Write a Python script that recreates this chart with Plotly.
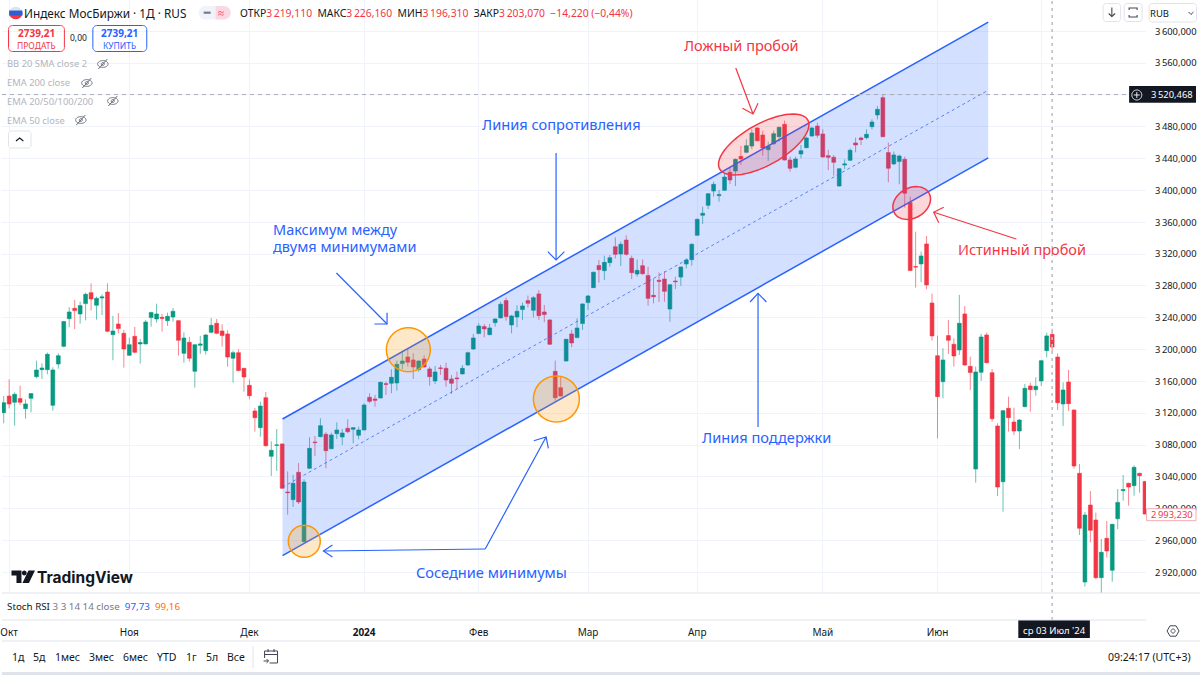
import math
import plotly.graph_objects as go

# daily candles of the index
opens = [3120.7,3141.6,3133.7,3138.3,3125.7,3138.7,3165.9,3174.7,3174.7,3129.9,
    3181.8,3204,3238.8,3251.8,3244.7,3257.7,3271.5,3255.6,3264.8,3272.3,
    3218.7,3232.1,3220.4,3192.7,3216.6,3207,3207,3240.1,3238.4,3240.5,
    3236.3,3240.9,3236.3,3195.2,3209.1,3172.6,3205.3,3198.6,3221.6,3233,
    3223.3,3219.6,3189,3196.1,3176.4,3155,3122.8,3101.8,3139.5,3065.8,
    3079.6,3081.3,3020.9,3011.3,3045.7,2958.5,3050.7,3083.8,3090.5,3093.5,
    3075.4,3094.3,3090.1,3101,3099.7,3092.2,3098.9,3140,3137.9,3139.1,
    3157.1,3157.6,3158,3182.3,3190.7,3186.9,3174.7,3188.1,3175.6,3160.5,
    3176.8,3176.4,3163,3164.3,3169.3,3180.6,3200.7,3220,3228.8,3218.7,
    3233.8,3239.7,3261.5,3230.9,3240.9,3250.2,3261.5,3249.3,3269.9,3247.2,
    3237.2,3172.6,3152.1,3185.6,3219.6,3215,3232.6,3259,3277.8,3305.5,
    3299.1,3309.2,3329.3,3320.1,3337.6,3314.6,3294.9,3305.4,3293.2,3268.1,
    3287,3288.6,3250.9,3286.1,3291.1,3307.5,3312.9,3343.5,3368.7,3381.2,
    3399.2,3393.4,3400.1,3422.7,3424.4,3442.8,3447.8,3455.8,3478.4,3469.6,
    3451.2,3458.7,3467.5,3483,3438.2,3429,3445.8,3453.7,3468.4,3480.9,
    3470.9,3443.7,3441.6,3405.5,3431.9,3437.8,3459.6,3465.9,3466.3,3480.1,
    3494.8,3516.6,3447.5,3433.3,3436.2,3439.1,3384.7,3304.2,3307.6,3332.7,
    3258.5,3192.3,3159.6,3217.5,3206.6,3199.5,3244.7,3178.9,3049.8,3171.4,
    3218.3,3170.9,3103.9,3033.9,3126.1,3108.9,3097.6,3128.2,3154.2,3149.6,
    3160.5,3198.6,3219.11,3190.6,3131.6,3159.2,3124,3044.4,2907.8,3004.6,
    2985.7,2913.3,2962.7,2922.5,2987.4,3022.6,3031.8,3028.9,3044.4,3034]
highs = [3141.6,3162.6,3146.2,3154.6,3137.4,3145,3186,3182.7,3196.1,3177.7,
    3195.2,3236,3253.1,3262.3,3260.2,3271.5,3283.2,3266.5,3269.4,3283.2,
    3242.2,3245.9,3224.6,3214.9,3228.4,3213.3,3237.1,3247.6,3257.7,3244.7,
    3246.4,3252.2,3237.1,3221.6,3215.8,3207,3217,3219.6,3239.7,3238.4,
    3231.7,3224.2,3198.6,3200.3,3176.8,3162.6,3126.5,3134.5,3146.6,3084.6,
    3100.1,3082.1,3046.9,3042.7,3057.4,3036.9,3089.7,3091.3,3113.5,3096,
    3095.5,3108.5,3100.2,3112.3,3102.5,3103.1,3132.4,3145,3142.9,3159.7,
    3159.7,3175.2,3186.1,3198.6,3201.6,3195.3,3186.5,3192.8,3178.5,3179.3,
    3180.6,3183.5,3168,3172.2,3180.6,3197.4,3219.6,3233,3232.1,3232.1,
    3239.3,3260.2,3265.2,3243.5,3255.6,3259,3267.8,3267.3,3274.5,3256,
    3238,3186.1,3165.1,3213.5,3224.6,3239.3,3258,3268.6,3297.9,3312.6,
    3318,3318.8,3341,3335.6,3343.5,3318,3313.3,3313.3,3304.1,3289.5,
    3297,3298.7,3282,3291.6,3304.1,3314.6,3333.5,3364.9,3379.5,3396.3,
    3411,3400.5,3421.4,3429.8,3440.3,3455.8,3464.2,3476.8,3479.3,3475.1,
    3461.3,3475.1,3480.1,3487.7,3442.4,3442.4,3457.1,3467.5,3480.1,3485.1,
    3476.8,3450.8,3444.5,3428,3439,3452.9,3466.3,3467.5,3476.8,3489.3,
    3506.1,3521.2,3460.1,3448.8,3445,3442.5,3392.2,3348.2,3323.1,3342.8,
    3270.3,3217.5,3201.6,3237.2,3214.1,3268.6,3254.8,3191.1,3178.5,3219.6,
    3221.2,3175.5,3107.2,3124,3140.8,3126.9,3112.7,3156.7,3158.4,3165.1,
    3186.9,3221.2,3226.16,3195.2,3158.8,3174.3,3124.8,3056.1,2995.8,3022.2,
    2995,2961.9,2984.5,2981,3024.7,3042.3,3032.7,3054.5,3045.2,3035]
lows = [3107.3,3126.1,3104.3,3130.3,3113.1,3121.1,3163.8,3163,3168.9,3123.2,
    3176,3202.8,3227.9,3225.8,3232.5,3236.7,3248.9,3237.6,3243.4,3221.6,
    3186.5,3220.4,3177.2,3191.9,3195.2,3182.3,3206.6,3228.8,3233.8,3222.5,
    3229.6,3235.1,3192.3,3183.5,3184.8,3152.1,3194.4,3193.6,3220.4,3219.1,
    3203.6,3178.5,3158.4,3172.6,3147.1,3137.4,3096.8,3090.5,3077.9,3041.1,
    3047.3,3025.1,2992.5,3002.1,3005.9,2957.3,3049.9,3066.2,3089.7,3050.7,
    3074.6,3087.6,3080,3094.7,3082.1,3087.2,3098.5,3132.4,3128.2,3138.7,
    3142.9,3145,3148.3,3175.2,3178.5,3163,3172.2,3177.3,3154.6,3156.7,
    3168,3153.4,3144.2,3150,3168.9,3179.3,3199.5,3219.6,3215.4,3217.9,
    3228.8,3239.3,3236.3,3220.4,3228,3237.2,3252.7,3240.5,3237.2,3234.2,
    3205.7,3135.8,3140.8,3184.8,3202.8,3214.1,3224.6,3249.7,3277.2,3284.1,
    3287.4,3304.1,3314.6,3305,3318,3288.6,3291.6,3293.7,3255.1,3258,
    3259.7,3260.1,3235,3276.1,3280.2,3302,3305.4,3343.1,3357.8,3376.6,
    3392.1,3385.8,3399.2,3408,3405.5,3431.9,3446.6,3451.6,3461.3,3443.7,
    3437,3457.1,3461.3,3437.4,3423.5,3427.7,3440.3,3452.9,3467.5,3466,
    3441.1,3425.6,3418.5,3404.7,3426.9,3437,3447.8,3457.1,3464.2,3476.8,
    3489.3,3467,3410.2,3432,3407.7,3378.4,3298.8,3277.8,3284.5,3275.7,
    3211.2,3088.4,3138.7,3194.4,3178.5,3193.2,3179.3,3149.1,3032.7,3160.5,
    3182.7,3109.3,3015.9,2996.2,3096.8,3092.6,3075,3127.4,3121.9,3142,
    3154.2,3190.2,3196.31,3124,3103.9,3122.8,3050.3,2966.9,2901.9,2957.7,
    2911.2,2893.6,2938.8,2908.2,2974.4,3010,3003.8,3016.3,3020.1,2993]
closes = [3133.2,3131.6,3143.7,3133.7,3131.6,3144.6,3174.3,3176.8,3194,3174.3,
    3192.3,3235.1,3247.2,3248.9,3255.2,3269.4,3263.5,3264.4,3266.1,3222.9,
    3223.3,3226.3,3200.7,3206.1,3196.5,3208.7,3234.6,3246.4,3244.7,3239.2,
    3241.8,3248,3211.6,3214.5,3189,3206.1,3207,3218.3,3230.4,3220.4,
    3217.5,3190.6,3196.1,3173.5,3165.5,3142,3114.4,3129,3079.2,3073.3,
    3080,3025.6,3020.1,3031.8,3008.4,3033.5,3075.8,3083,3104.3,3072.9,
    3092.6,3098.9,3095.1,3096.8,3101.8,3098.9,3130.3,3134.9,3136.2,3158.8,
    3156.3,3165.1,3181.4,3185.6,3184,3178.1,3185.6,3178.1,3165.9,3171.8,
    3176.4,3161.7,3157.6,3163.4,3176.4,3196.1,3214.5,3229.6,3225.9,3227.1,
    3238.4,3256.9,3241.4,3242.2,3248.1,3254.8,3258.1,3265.2,3242.6,3243.9,
    3206.6,3139.5,3141.6,3212.9,3208.3,3227.1,3257.3,3267.3,3297.1,3300.4,
    3309.6,3315.4,3319.6,3332.2,3319.6,3296.6,3299.5,3295.3,3264.3,3266.4,
    3285.7,3273.1,3281.5,3285.3,3303.7,3312.5,3332.2,3363.6,3371.2,3395.9,
    3407.6,3394.6,3416.8,3413.1,3439,3439.5,3456.2,3472.1,3462.5,3453.3,
    3455.4,3471.3,3479.3,3438.2,3427.7,3439.5,3449.9,3465.9,3478.4,3469.2,
    3442,3441.6,3435.3,3427.3,3433.2,3450.4,3457.1,3463.8,3470.5,3486,
    3501.9,3467.5,3427.8,3444.6,3443.3,3396.4,3299.2,3303.8,3317.6,3281.2,
    3217.1,3140.8,3186.9,3211.6,3191.9,3233,3180.6,3171,3171.8,3215.8,
    3183.5,3113.1,3027.2,3123.2,3114.4,3097.6,3111.4,3151.2,3149.6,3153.8,
    3186,3217.1,3203.07,3133.2,3149.1,3132,3053.6,2975.3,2992,2972.8,
    2913.3,2945.1,2946.8,2980.3,3007.9,3023.9,3027.2,3051.9,3041.5,2993.23]
days = list(range(len(closes)))

month_ticks = [1, 23, 45, 66, 87, 107, 127, 150, 171, 190]
# the July label sits under the crosshair date box
month_labels = ["Окт", "Ноя", "Дек", "<b>2024</b>", "Фев", "Мар", "Апр", "Май", "Июн", ""]
price_ticks = [3600, 3560, 3520, 3480, 3440, 3400, 3360, 3320, 3280, 3240, 3200,
               3160, 3120, 3080, 3040, 3000, 2960, 2920]
price_labels = ["3\u2009600,000", "3\u2009560,000", "", "3\u2009480,000", "3\u2009440,000", "3\u2009400,000",
                "3\u2009360,000", "3\u2009320,000", "3\u2009280,000", "3\u2009240,000", "3\u2009200,000",
                "3\u2009160,000", "3\u2009120,000", "3\u2009080,000", "3\u2009040,000", "3\u2009000,000",
                "2\u2009960,000", "2\u2009920,000"]

# channel: first and last candle it spans, prices at both ends
channel_days = [51.06, 180.3]
channel_top = [3112.7, 3611.6]
channel_mid = [3027, 3526]
channel_bottom = [2941, 3440.8]
cross_day = 192
cross_price = 3520.468

range_buttons = ["1д", "5д", "1мес", "3мес", "6мес", "YTD", "1г", "5л", "Все"]
range_button_x = [17, 38, 66, 100, 134, 165, 190, 210, 234]
study_names = ["BB 20 SMA close 2", "EMA 200 close", "EMA 20/50/100/200", "EMA 50 close"]
study_y = [64, 83, 101, 120]
study_eye_x = [101, 85, 111, 79]

BLUE = "#2962ff"
RED = "#f23645"
GREEN = "#089981"
ORANGE = "#ff9800"
DARK = "#131722"
GRID = "#f0f3fa"
BORDER = "#e0e3eb"
FONT = "Noto Sans"

W, H = 1200, 675


def px(x):
    return x / W


def py(y):
    return 1 - y / H


def poly(points, close=False):
    path = "M " + " L ".join(f"{px(x):.5f} {py(y):.5f}" for x, y in points)
    return path + (" Z" if close else "")


def ellipse_points(cx, cy, a, b, angle=0, start=0, stop=360):
    t = math.radians(angle)
    pts = []
    for deg in range(start, stop + 1, 6):
        r = math.radians(deg)
        ex, ey = a * math.cos(r), b * math.sin(r)
        pts.append((cx + ex * math.cos(t) - ey * math.sin(t), cy + ex * math.sin(t) + ey * math.cos(t)))
    return pts


def round_rect(x0, y0, x1, y1, r):
    pts = []
    for cx, cy, start in [(x1 - r, y0 + r, 270), (x1 - r, y1 - r, 0), (x0 + r, y1 - r, 90), (x0 + r, y0 + r, 180)]:
        pts += ellipse_points(cx, cy, r, r, 0, start, start + 90)
    return pts + pts[:1]


shapes = []
annotations = []


def add_path(points, color=None, width=1, fill=None, close=False, dash=None):
    shapes.append(dict(type="path", xref="paper", yref="paper", path=poly(points, close),
                       line=dict(color=color or "rgba(0,0,0,0)", width=width, dash=dash),
                       fillcolor=fill or "rgba(0,0,0,0)", layer="above"))


def add_text(x, y, text, size=11, color=DARK, anchor="left", family=FONT, bg=None):
    # left anchored annotations sit about 3px right of x
    if anchor == "left":
        x -= 3
    annotations.append(dict(xref="paper", yref="paper", x=px(x), y=py(y), text=text, showarrow=False,
                            xanchor=anchor, yanchor="middle", font=dict(size=size, color=color, family=family),
                            bgcolor=bg, borderpad=0))


def add_arrow(points, barbs, color):
    add_path(points, color, 1.2)
    add_path([barbs[0], points[-1], barbs[1]], color, 1.2)


fig = go.Figure()
fig.add_trace(go.Candlestick(
    x=days, open=opens, high=highs, low=lows, close=closes, whiskerwidth=0,
    increasing=dict(line=dict(color="rgba(8,153,129,0.6)", width=1), fillcolor=GREEN),
    decreasing=dict(line=dict(color="rgba(242,54,69,0.6)", width=1), fillcolor=RED),
    hoverinfo="skip", showlegend=False,
))
# empty pane of the collapsed Stoch RSI, it carries the month labels
fig.add_trace(go.Scatter(x=[days[0]], y=[0], xaxis="x2", yaxis="y2", mode="markers",
                         marker=dict(opacity=0), showlegend=False, hoverinfo="skip"))

# channel
shapes.append(dict(type="path", xref="x", yref="y", layer="above", line=dict(width=0),
                   fillcolor="rgba(41,98,255,0.2)",
                   path=f"M {channel_days[0]} {channel_top[0]} L {channel_days[1]} {channel_top[1]} "
                        f"L {channel_days[1]} {channel_bottom[1]} L {channel_days[0]} {channel_bottom[0]} Z"))
for ends, width, dash, color in [(channel_top, 1.5, None, BLUE), (channel_bottom, 1.5, None, BLUE),
                                 (channel_mid, 1, "3px,3px", "rgba(41,98,255,0.75)")]:
    shapes.append(dict(type="line", xref="x", yref="y", layer="above", x0=channel_days[0], x1=channel_days[1],
                       y0=ends[0], y1=ends[1], line=dict(color=color, width=width, dash=dash)))

# crosshair
shapes.append(dict(type="line", xref="x", yref="paper", x0=cross_day, x1=cross_day, y0=py(620), y1=1, layer="above",
                   line=dict(color="#bfc1c8", width=1.6, dash="3px,4px")))
shapes.append(dict(type="line", xref="paper", yref="y", x0=0, x1=px(1130), y0=cross_price, y1=cross_price,
                   layer="above", line=dict(color="#a8abb4", width=1, dash="4px,4px")))

# circles and ellipses
for cx, cy, r in [(302.8, 541.3, 16), (407, 349.7, 22), (555.3, 399, 23)]:
    add_path(ellipse_points(cx, cy, r, r), ORANGE, 1.5, "rgba(255,152,0,0.22)", True)
add_path(ellipse_points(763, 144.5, 50.5, 20.8, -29), RED, 1.5, "rgba(242,54,69,0.2)", True)
add_path(ellipse_points(911.2, 203, 20, 15, -30), RED, 1.5, "rgba(242,54,69,0.2)", True)

# arrows
add_arrow([(555, 153), (555, 260)], [(546.7, 251.7), (563.3, 251.7)], BLUE)
add_arrow([(335, 273), (385.7, 324)], [(373, 324), (385.7, 312.7)], BLUE)
add_arrow([(757.3, 427), (757.3, 293.3)], [(749.3, 302), (765.7, 302)], BLUE)
add_arrow([(484, 549), (322, 551)], [(331, 545), (331, 557)], BLUE)
add_arrow([(484, 549), (545, 437)], [(532.7, 440.7), (547.3, 448.3)], BLUE)
add_arrow([(735, 68), (752.3, 114)], [(741.7, 108.3), (757.3, 103.3)], RED)
add_arrow([(1016, 239), (933.3, 212.3)], [(943.3, 207.3), (938.3, 222.7)], RED)

add_text(741, 45, "Ложный пробой", 14.5, RED, "center")
add_text(560, 124, "Линия сопротивления", 14.6, BLUE, "center")
add_text(273, 229, "Максимум между", 14.5, BLUE)
add_text(273, 246, "двумя минимумами", 14.5, BLUE)
add_text(490.5, 572, "Соседние минимумы", 14.6, BLUE, "center")
add_text(765.5, 437, "Линия поддержки", 14.6, BLUE, "center")
add_text(1021.5, 249, "Истинный пробой", 14.5, RED, "center")

# header
add_path(ellipse_points(13.8, 13, 6.7, 6.2, 0, 180, 360), None, 0, "#dfe3ee", True)
add_path(ellipse_points(13.8, 13, 6.7, 6.2, 0, 0, 180), None, 0, RED, True)
add_path([(7.1, 10.5), (20.5, 10.5), (20.5, 15.5), (7.1, 15.5)], None, 0, "#2d5fd3", True)
add_text(24, 13, "Индекс МосБиржи · 1Д · RUS", 11.8)
add_path(round_rect(197, 6, 229, 19.5, 6.7), None, 0, "#f0f3fa", True)
add_path(ellipse_points(221.5, 12.7, 7.5, 6.7, 0, 270, 450), None, 0, "#fbd7e2", True)
add_path([(214, 6), (221.5, 6), (221.5, 19.5), (214, 19.5)], None, 0, "#fbd7e2", True)
add_path([(202, 12.7), (209, 12.7)], "#787b86", 2.2)
add_text(219.5, 12.5, "≈", 11, "#e91e63", "center")
values = ""
for name, val in [("ОТКР", "3\u2009219,110"), ("МАКС", "3\u2009226,160"), ("МИН", "3\u2009196,310"), ("ЗАКР", "3\u2009203,070")]:
    values += f'{name}<span style="color:{RED}">{val}</span>  '
values += f'<span style="color:{RED}">−14,220 (−0,44%)</span>'
add_text(240, 13, values, 10.35)

add_path(round_rect(6.5, 25.5, 62.5, 51.5, 4), RED, 1)
add_path(round_rect(91, 25.5, 145, 51.5, 4), BLUE, 1)
add_text(34.5, 33.5, "<b>2739,21</b>", 10, RED, "center")
add_text(34.5, 45.5, "ПРОДАТЬ", 8.5, RED, "center")
add_text(118, 33.5, "<b>2739,21</b>", 10, BLUE, "center")
add_text(118, 45.5, "КУПИТЬ", 8.5, BLUE, "center")
add_text(76.5, 37.5, "0,00", 8.5, DARK, "center")

for name, y, ex in zip(study_names, study_y, study_eye_x):
    add_text(7, y, name, 9.4, "#b2b5be")
    add_path(ellipse_points(ex, y, 5.2, 3.4), "#6a6d78", 1)
    add_path(ellipse_points(ex, y, 1.5, 1.5), "#6a6d78", 1)
    add_path([(ex - 4.5, y + 5), (ex + 4.5, y - 5)], "#6a6d78", 1)

add_path(round_rect(6.5, 131, 29, 148, 3), BORDER, 1, "white", True)
add_path([(14, 141), (17.7, 138), (21.4, 141)], DARK, 1.1)

# top right buttons
add_path(round_rect(1103, 3.5, 1120.5, 21.5, 3), BORDER, 1, "white", True)
add_path([(1111.7, 7.5), (1111.7, 16.5)], "#434651", 1.1)
add_path([(1108.5, 13.5), (1111.7, 16.5), (1115, 13.5)], "#434651", 1.1)
add_path(round_rect(1124, 3.5, 1142, 21.5, 3), BORDER, 1, "white", True)
add_path([(1129, 10), (1129, 8), (1137, 8), (1137, 10)], "#434651", 1.1)
add_path([(1129, 15), (1129, 17), (1137, 17), (1137, 15)], "#434651", 1.1)
add_path(round_rect(1149, 3.5, 1196.5, 22, 3), BORDER, 1, "white", True)
add_text(1152, 13, "RUB", 9.5)
add_path([(1188.5, 12), (1191, 14.5), (1193.5, 12)], "#434651", 1)

# price labels
add_path([(1129, 86), (1196, 86), (1196, 102.7), (1129, 102.7)], None, 0, DARK, True)
add_path(ellipse_points(1136.7, 95, 5, 5), "white", 0.9)
add_path([(1133.7, 95), (1139.7, 95)], "white", 0.9)
add_path([(1136.7, 92), (1136.7, 98)], "white", 0.9)
add_text(1153, 94.5, "3\u2009520,468", 9.4, "white")
add_path([(1146.5, 508.7), (1196, 508.7), (1196, 520.7), (1146.5, 520.7)], "#f7a9b0", 1, "white", True)
add_text(1153, 514.7, "2\u2009993,230", 9.4, RED)

# date label
add_path([(1018, 620), (1089.7, 620), (1089.7, 638), (1018, 638)], None, 0, DARK, True)
add_text(1053.8, 630, "ср 03 Июл '24", 9.5, "white", "center")

# panes and toolbars
add_path([(0, 593), (1200, 593)], BORDER, 1)
add_path([(0, 620), (1146, 620)], BORDER, 1)
add_path([(0, 641), (1200, 641)], BORDER, 1)
add_path([(0, 672), (1200, 672), (1200, 675), (0, 675)], None, 0, "#e0e3eb", True)
stoch = f'Stoch RSI <span style="color:#787b86">3 3 14 14 close</span>  <span style="color:{BLUE}">97,73</span>  ' \
        f'<span style="color:#ff6d00">99,16</span>'
add_text(7, 606, stoch, 9.8)
add_text(37, 577, "<b>TradingView</b>", 15.5, DARK, family="Inter")
add_path([(9.5, 570.5), (19.5, 570.5), (19.5, 583), (14.5, 583), (14.5, 575.5), (9.5, 575.5)], None, 0, DARK, True)
add_path(ellipse_points(22.3, 573, 2.4, 2.4), None, 0, DARK, True)
add_path([(26.5, 570.5), (33, 570.5), (27, 583), (20.5, 583)], None, 0, DARK, True)

for name, x in zip(range_buttons, range_button_x):
    add_text(x, 657, name, 10.5, DARK, "center")
add_path([(251.5, 646), (251.5, 668)], BORDER, 1)
# calendar with an arrow
add_path([(263, 658), (263, 651), (276, 651), (276, 663), (268, 663)], "#434651", 1)
add_path([(263, 654.5), (276, 654.5)], "#434651", 1)
add_path([(266.5, 649), (266.5, 652)], "#434651", 1)
add_path([(272.5, 649), (272.5, 652)], "#434651", 1)
add_path([(262, 661), (267, 661)], "#434651", 1)
add_path([(265, 659), (267, 661), (265, 663)], "#434651", 1)
add_text(1192, 657, "09:24:17 (UTC+3)", 10.5, DARK, "right")
add_path(ellipse_points(1173, 631, 6, 6)[::10], "#434651", 1, None, True)
add_path(ellipse_points(1173, 631, 2, 2), "#434651", 1)

right = px(1146)
fig.update_layout(
    width=W, height=H, autosize=False, margin=dict(l=0, r=0, t=0, b=0),
    paper_bgcolor="white", plot_bgcolor="white", showlegend=False, dragmode=False, boxgap=0.0,
    font=dict(family=FONT, size=10, color=DARK),
    xaxis=dict(domain=[0, right], range=[-0.31, 209.2], rangeslider=dict(visible=False), tickmode="array",
               tickvals=month_ticks, showticklabels=False, showgrid=True, gridcolor=GRID, gridwidth=1,
               zeroline=False, showline=False, ticks=""),
    yaxis=dict(domain=[py(593), 1], range=[2894, 3639.3], side="right", tickmode="array", tickvals=price_ticks,
               ticktext=price_labels, showgrid=True, gridcolor=GRID, gridwidth=1, zeroline=False, showline=False,
               ticks="outside", ticklen=6, tickcolor="rgba(0,0,0,0)", tickfont=dict(size=9.4, color=DARK)),
    xaxis2=dict(domain=[0, right], range=[-0.31, 209.2], anchor="y2", tickmode="array", tickvals=month_ticks,
                ticktext=month_labels, showgrid=False, zeroline=False, showline=False, ticks="outside", ticklen=3,
                ticklabeloverflow="allow", tickcolor="rgba(0,0,0,0)", tickfont=dict(size=10, color=DARK)),
    yaxis2=dict(domain=[py(620), py(593)], anchor="x2", side="right", showticklabels=False, showgrid=False,
                zeroline=False, showline=False, ticks=""),
    shapes=shapes, annotations=annotations,
)
fig.write_html("out.html", config={"displayModeBar": False},
               post_script="document.body.style.margin='0';document.body.style.overflow='hidden';")
